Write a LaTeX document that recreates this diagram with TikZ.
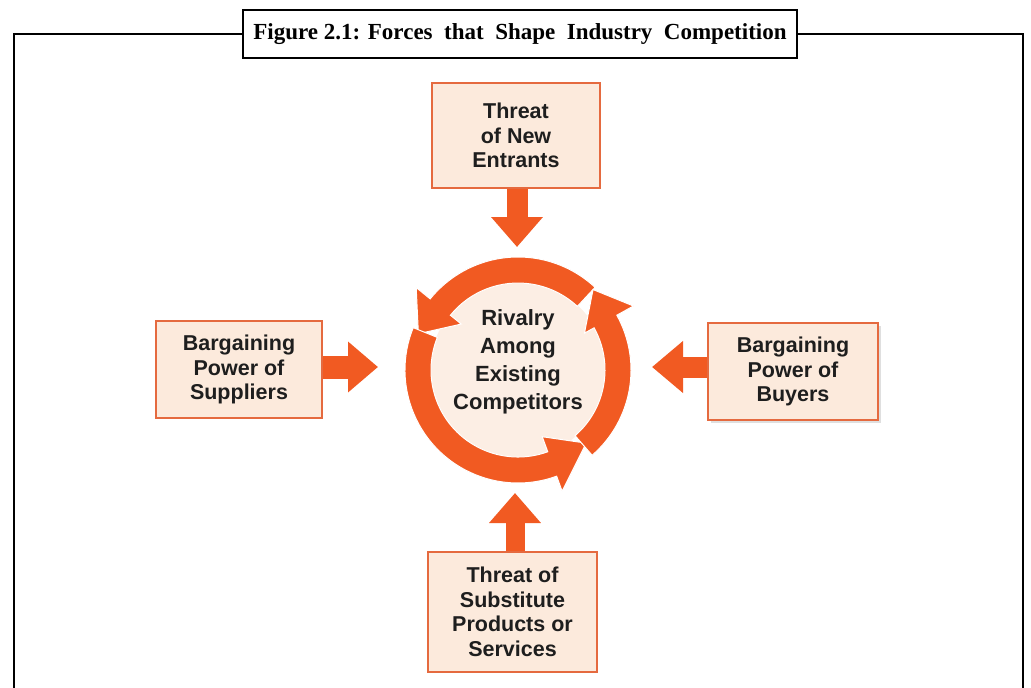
\documentclass[tikz,border=0pt]{standalone}
\usepackage{fontspec}
\setmainfont{Liberation Serif}
\newfontfamily\boxfont{Liberation Sans}
\usetikzlibrary{arrows.meta,shadows}
\definecolor{arrorange}{HTML}{F15A22}
\definecolor{boxline}{HTML}{E56A3F}
\definecolor{boxfill}{HTML}{FCEADC}
\definecolor{innerfill}{HTML}{FCEEE4}
\definecolor{boxtext}{HTML}{1E1E1E}
\tikzset{
  frame/.style={line width=2.4pt, black},
  forcebox/.style={draw=boxline, line width=2pt, fill=boxfill, align=center,
    font=\boxfont\bfseries\fontsize{21.5}{24.5}\selectfont, text=boxtext, inner sep=0pt},
  blockarrow/.style={draw=arrorange, line width=21pt,
    -{Triangle[width=50pt,length=30pt]}, arrorange},
  ringarrow/.style={fill=arrorange, draw=white, line width=1pt, line join=miter},
  titlebox/.style={draw=black, line width=2.4pt, fill=white,
    minimum width=554pt, minimum height=48pt, inner sep=0pt,
    font=\bfseries\fontsize{23}{26}\selectfont}
}
\begin{document}
\begin{tikzpicture}[x=1pt,y=1pt]
\useasboundingbox (0,0) rectangle (1031,-688);
% frame and title
\node[titlebox] (title) at (520,-34) {Figure 2.1: Forces\ \ that\ \ Shape\ \ Industry\ \ Competition};
\coordinate (tl) at (14,-34);
\coordinate (bl) at (14,-690);
\coordinate (tr) at (1023,-34);
\coordinate (br) at (1023,-690);
\draw[frame] (title.west) -- (tl) -- (bl);
\draw[frame] (title.east) -- (tr) -- (br);

% boxes
\node[forcebox, minimum width=168pt, minimum height=105pt] (top) at (516,-135.5)
  {Threat\\of New\\Entrants};
\node[forcebox, minimum width=166pt, minimum height=97pt] (left) at (239,-369.5)
  {Bargaining\\Power of\\Suppliers};
\node[forcebox, minimum width=170pt, minimum height=97pt,
  drop shadow={opacity=0.25, shadow xshift=3pt, shadow yshift=-3pt}] (right) at (793,-371.5)
  {Bargaining\\Power of\\Buyers};
\node[forcebox, minimum width=169pt, minimum height=120pt] (bottom) at (512.5,-612)
  {Threat of\\Substitute\\Products or\\Services};

% ring
\begin{scope}[shift={(518,-370)}]
  \fill[innerfill] (0,0) circle[radius=88pt];
  \path[ringarrow] (47:113) arc[start angle=47, end angle=141, radius=113pt]
     -- (141:131) -- (160:106) -- (141:73) -- (141:87)
     arc[start angle=141, end angle=47, radius=87pt] -- cycle;
  \path[ringarrow] (158:113) arc[start angle=158, end angle=290, radius=113pt]
     -- (290:129) -- (313:100) -- (290:71) -- (290:87)
     arc[start angle=290, end angle=158, radius=87pt] -- cycle;
  \path[ringarrow] (311:113) arc[start angle=311, end angle=389, radius=113pt]
     -- (389:132) -- (407:110) -- (389:76) -- (389:87)
     arc[start angle=389, end angle=311, radius=87pt] -- cycle;
  \node[align=center, font=\boxfont\bfseries\fontsize{22}{28}\selectfont, text=boxtext]
    (rivalry) at (0,8) {Rivalry\\Among\\Existing\\Competitors};
\end{scope}

% tips of block arrows
\coordinate (ntip) at (517,-247);
\coordinate (wtip) at (378,-367);
\coordinate (etip) at (652,-367);
\coordinate (stip) at (515,-493);
\draw[blockarrow] (top.south -| ntip) -- (ntip);
\draw[blockarrow, line width=23pt, -{Triangle[width=49pt,length=30pt]}] (left.east |- wtip) -- (wtip);
\draw[blockarrow, line width=21pt, -{Triangle[width=50pt,length=31pt]}] (right.west |- etip) -- (etip);
\draw[blockarrow, line width=19pt, -{Triangle[width=50pt,length=30pt]}] (bottom.north -| stip) -- (stip);
\end{tikzpicture}
\end{document}
